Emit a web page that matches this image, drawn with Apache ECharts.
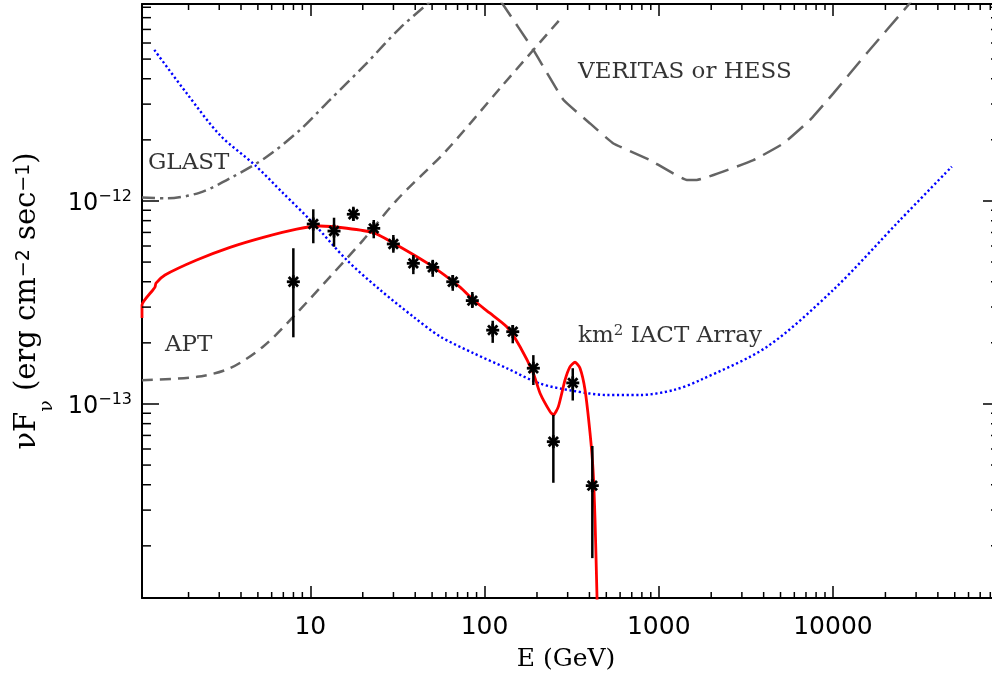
<!DOCTYPE html>
<html>
<head>
<meta charset="utf-8">
<script src="https://cdn.jsdelivr.net/npm/echarts@6/dist/echarts.min.js"></script>
<style>html,body{margin:0;padding:0;background:#fff}#chart{width:992px;height:681px}</style>
</head>
<body>
<div id="chart"></div>
<script>
// ---------- axis ranges and ticks ----------
const xRange = [1.081, 90940];
const yRange = [1.107e-14, 9.34e-12];
const xMinorTicks = [2,3,4,5,6,7,8,9, 20,30,40,50,60,70,80,90, 200,300,400,500,600,700,800,900,
  2000,3000,4000,5000,6000,7000,8000,9000, 20000,30000,40000,50000,60000,70000,80000,90000];
const yMinorTicks = [2e-14,3e-14,4e-14,5e-14,6e-14,7e-14,8e-14,9e-14,
  2e-13,3e-13,4e-13,5e-13,6e-13,7e-13,8e-13,9e-13,
  2e-12,3e-12,4e-12,5e-12,6e-12,7e-12,8e-12,9e-12];
const xTickLabels = ['10', '100', '1000', '10000'];
const yTickLabels = ['−13', '−12'];

// ---------- measured points with error bars ----------
const pointE  = [7.99, 10.40, 13.68, 17.66, 23.12, 29.96, 39.02, 50.42, 65.7, 85.1, 111.4, 145.2, 190.6, 248.3, 320.9, 415.6];
const pointF  = [4.00e-13, 7.70e-13, 7.11e-13, 8.60e-13, 7.33e-13, 6.14e-13, 4.93e-13, 4.71e-13, 4.00e-13, 3.23e-13, 2.31e-13, 2.27e-13, 1.50e-13, 6.52e-14, 1.27e-13, 3.96e-14];
const pointLo = [2.13e-13, 6.19e-13, 5.95e-13, 7.97e-13, 6.55e-13, 5.56e-13, 4.36e-13, 4.23e-13, 3.61e-13, 2.97e-13, 2.00e-13, 1.99e-13, 1.24e-13, 4.09e-14, 1.04e-13, 1.74e-14];
const pointHi = [5.85e-13, 9.10e-13, 8.27e-13, 9.37e-13, 8.06e-13, 6.80e-13, 5.42e-13, 5.13e-13, 4.32e-13, 3.56e-13, 2.57e-13, 2.45e-13, 1.74e-13, 8.83e-14, 1.50e-13, 6.21e-14];

// ---------- model curve (red) ----------
const modelE = [1.081, 1.081, 1.250, 1.284, 1.301, 1.465, 2.228, 3.46, 5.37, 8.354, 11.37, 16.18, 23.0, 31.33, 48.67, 72.35, 86.25, 107.5, 134.1, 159.9, 190.6, 208.3, 237.7, 248.3, 265.3, 289.8, 309.7, 330.7, 353.3, 377.5, 403.3, 419.6, 430.8, 442.3, 448.1];
const modelF = [2.65e-13, 3.07e-13, 3.65e-13, 3.77e-13, 3.94e-13, 4.32e-13, 5.12e-13, 5.91e-13, 6.62e-13, 7.27e-13, 7.53e-13, 7.34e-13, 6.98e-13, 6.07e-13, 4.84e-13, 3.76e-13, 3.25e-13, 2.80e-13, 2.40e-13, 1.915e-13, 1.416e-13, 1.13e-13, 9.17e-14, 8.83e-14, 9.70e-14, 1.313e-13, 1.527e-13, 1.605e-13, 1.50e-13, 1.172e-13, 7.18e-14, 4.73e-14, 2.68e-14, 1.107e-14, 6.87e-15];

// ---------- km^2 IACT array sensitivity (blue dotted) ----------
const iactE = [1.272, 1.952, 3.031, 4.815, 7.0, 10.40, 16.18, 25.12, 39.02, 55.54, 86.25, 134.1, 208.3, 323.4, 502.9, 781, 1213, 1726, 4169, 10050, 24280, 48080];
const iactF = [5.55e-12, 3.39e-12, 2.11e-12, 1.50e-12, 1.09e-12, 7.77e-13, 5.12e-13, 3.65e-13, 2.69e-13, 2.15e-13, 1.78e-13, 1.50e-13, 1.26e-13, 1.16e-13, 1.107e-13, 1.107e-13, 1.17e-13, 1.31e-13, 1.91e-13, 3.65e-13, 8.06e-13, 1.476e-12];

// ---------- APT sensitivity (grey dashed) ----------
const aptE = [1.081, 2.228, 3.46, 5.37, 7.99, 12.97, 20.15, 31.33, 60.67, 122.7, 271.3];
const aptF = [1.31e-13, 1.36e-13, 1.50e-13, 1.92e-13, 2.69e-13, 4.23e-13, 6.43e-13, 1.01e-12, 1.78e-12, 3.59e-12, 7.85e-12];

// ---------- GLAST sensitivity (grey dash-dot) ----------
const glastE = [1.081, 1.498, 2.327, 3.614, 5.62, 8.728, 12.97, 20.61, 32.73, 49.95];
const glastF = [1.04e-12, 1.03e-12, 1.10e-12, 1.32e-12, 1.65e-12, 2.24e-12, 3.15e-12, 4.68e-12, 7.11e-12, 9.77e-12];

// ---------- VERITAS / HESS sensitivity (grey long dashes) ----------
const veritasE = [122.7, 128.2, 190.6, 283.4, 403.3, 548.9, 891.3, 1448, 1652, 3492, 5192, 7389, 10050, 15630, 26530, 28450];
const veritasF = [9.77e-12, 9.24e-12, 5.55e-12, 3.15e-12, 2.41e-12, 1.92e-12, 1.59e-12, 1.27e-12, 1.27e-12, 1.59e-12, 1.92e-12, 2.51e-12, 3.39e-12, 5.34e-12, 9.05e-12, 9.77e-12];

// ---------- annotations ----------
const annoText = ['GLAST', 'APT', 'VERITAS or HESS', '{t|km}{s|2}{t| IACT Array}'];
const annoE = [1.17, 1.465, 344.1, 344.1];
const annoF = [1.54e-12, 1.95e-13, 4.32e-12, 2.16e-13];

const zip = (a, b) => a.map((v, i) => [v, b[i]]);
const GREY = '#646464';
const serif = 'DejaVu Serif';
const sans = 'DejaVu Sans';

const chart = echarts.init(document.getElementById('chart'), null, {renderer: 'canvas'});

function minorTicks(values, dir) {
  return {
    type: 'custom', coordinateSystem: 'cartesian2d', silent: true, clip: false, z: 5,
    data: values.map(v => dir === 'x' ? [v, yRange[0]] : [xRange[0], v]),
    renderItem: (params, api) => {
      const cs = params.coordSys;
      const p = api.coord([api.value(0), api.value(1)]);
      const st = {stroke: '#000', lineWidth: 1.5};
      if (dir === 'x') {
        const yb = cs.y + cs.height, yt = cs.y;
        return {type: 'group', children: [
          {type: 'line', shape: {x1: p[0], y1: yb, x2: p[0], y2: yb - 6}, style: st},
          {type: 'line', shape: {x1: p[0], y1: yt, x2: p[0], y2: yt + 6}, style: st}
        ]};
      }
      const xl = cs.x, xr = cs.x + cs.width;
      return {type: 'group', children: [
        {type: 'line', shape: {x1: xl, y1: p[1], x2: xl + 9, y2: p[1]}, style: st},
        {type: 'line', shape: {x1: xr, y1: p[1], x2: xr - 9, y2: p[1]}, style: st}
      ]};
    }
  };
}

const baseX = {
  type: 'log', logBase: 10, min: xRange[0], max: xRange[1],
  splitLine: {show: false},
  axisLine: {show: true, lineStyle: {color: '#000', width: 2}},
  axisTick: {show: true, inside: true, length: 12, lineStyle: {color: '#000', width: 1.5}}
};
const baseY = {
  type: 'log', logBase: 10, min: yRange[0], max: yRange[1],
  splitLine: {show: false},
  axisLine: {show: true, lineStyle: {color: '#000', width: 2}},
  axisTick: {show: true, inside: true, length: 17, lineStyle: {color: '#000', width: 1.5}}
};

const option = {
  animation: false,
  backgroundColor: '#fff',
  grid: {left: 142, top: 4, width: 858, height: 594, containLabel: false, outerBoundsMode: 'none'},
  xAxis: [
    Object.assign({}, baseX, {
      position: 'bottom',
      axisLabel: {
        show: true, margin: 17, color: '#000', fontFamily: sans, fontSize: 25,
        showMinLabel: false, showMaxLabel: false,
        formatter: v => {
          const s = String(Math.round(v));
          return xTickLabels.indexOf(s) >= 0 ? s : '';
        }
      },
      name: 'E (GeV)', nameLocation: 'middle', nameGap: 49,
      nameTextStyle: {fontFamily: serif, fontSize: 25, color: '#000', lineHeight: 25, padding: [0, 10, 0, 0]}
    }),
    Object.assign({}, baseX, {position: 'top', axisLabel: {show: false}})
  ],
  yAxis: [
    Object.assign({}, baseY, {
      position: 'left',
      axisLabel: {
        show: true, margin: 10, color: '#000',
        showMinLabel: false, showMaxLabel: false,
        formatter: v => {
          const e = String(Math.round(Math.log10(v))).replace('-', '−');
          return yTickLabels.indexOf(e) >= 0 ? '{b|10}{s|' + e + '}' : '';
        },
        rich: {
          b: {fontFamily: sans, fontSize: 24, lineHeight: 24, padding: [5, 0, 0, 0], color: '#000'},
          s: {fontFamily: sans, fontSize: 16, lineHeight: 16, verticalAlign: 'top', color: '#000'}
        }
      },
      name: '{m|νF}{sub|ν}{m| (erg cm}{sup|−2}{m| sec}{sup|−1}{m|)}',
      nameLocation: 'middle', nameGap: 95, nameRotate: 90,
      nameTextStyle: {
        rich: {
          m: {fontFamily: serif, fontSize: 29, lineHeight: 32, color: '#000'},
          sub: {fontFamily: serif, fontSize: 19, lineHeight: 19, verticalAlign: 'top', padding: [26, 0, 0, 0], color: '#000'},
          sup: {fontFamily: sans, fontSize: 19, lineHeight: 19, verticalAlign: 'top', padding: [3, 0, 0, 0], color: '#000'}
        }
      }
    }),
    Object.assign({}, baseY, {position: 'right', axisLabel: {show: false}})
  ],
  series: [
    minorTicks(xMinorTicks, 'x'),
    minorTicks(yMinorTicks, 'y'),
    {
      type: 'line', name: 'GLAST', data: zip(glastE, glastF), showSymbol: false, smooth: 0.3,
      lineStyle: {color: GREY, width: 2.5, type: [13, 5, 3, 5]}, z: 2
    },
    {
      type: 'line', name: 'APT', data: zip(aptE, aptF), showSymbol: false, smooth: 0.3,
      lineStyle: {color: GREY, width: 2.5, type: [11, 7]}, z: 2
    },
    {
      type: 'line', name: 'VERITAS', data: zip(veritasE, veritasF), showSymbol: false,
      smooth: 0.1,
      lineStyle: {color: GREY, width: 2.5, type: [20, 9]}, z: 2
    },
    {
      type: 'line', name: 'IACT', data: zip(iactE, iactF), showSymbol: false, smooth: 0.3,
      lineStyle: {color: '#0000ff', width: 2.4, type: [2.2, 2.6]}, z: 3
    },
    {
      type: 'line', name: 'model', data: zip(modelE, modelF), showSymbol: false, smooth: 0.2,
      lineStyle: {color: '#ff0000', width: 2.8}, z: 4
    },
    {
      type: 'custom', name: 'data', coordinateSystem: 'cartesian2d', z: 6,
      data: pointE.map((e, i) => [e, pointF[i], pointLo[i], pointHi[i]]),
      encode: {x: 0, y: [1, 2, 3]},
      renderItem: (params, api) => {
        const c = api.coord([api.value(0), api.value(1)]);
        const lo = api.coord([api.value(0), api.value(2)]);
        const hi = api.coord([api.value(0), api.value(3)]);
        const st = {stroke: '#000', lineWidth: 2.8};
        const r = 6.5, d = r * 0.72;
        return {type: 'group', children: [
          {type: 'line', shape: {x1: c[0], y1: lo[1], x2: c[0], y2: hi[1]}, style: {stroke: '#000', lineWidth: 2.5}},
          {type: 'line', shape: {x1: c[0], y1: c[1] - r, x2: c[0], y2: c[1] + r}, style: st},
          {type: 'line', shape: {x1: c[0] - r, y1: c[1], x2: c[0] + r, y2: c[1]}, style: st},
          {type: 'line', shape: {x1: c[0] - d, y1: c[1] - d, x2: c[0] + d, y2: c[1] + d}, style: st},
          {type: 'line', shape: {x1: c[0] - d, y1: c[1] + d, x2: c[0] + d, y2: c[1] - d}, style: st}
        ]};
      }
    },
    {
      type: 'scatter', name: 'labels', symbolSize: 0, silent: true, z: 7,
      data: annoE.map((e, i) => ({value: [e, annoF[i]], label: {formatter: annoText[i]}})),
      label: {
        show: true, position: 'right', distance: 0, color: '#000',
        fontFamily: serif, fontSize: 23,
        rich: {
          t: {fontFamily: serif, fontSize: 23, lineHeight: 25, color: '#000'},
          s: {fontFamily: serif, fontSize: 15, lineHeight: 15, verticalAlign: 'top', color: '#000'}
        }
      }
    }
  ]
};
chart.setOption(option);
</script>
</body>
</html>
